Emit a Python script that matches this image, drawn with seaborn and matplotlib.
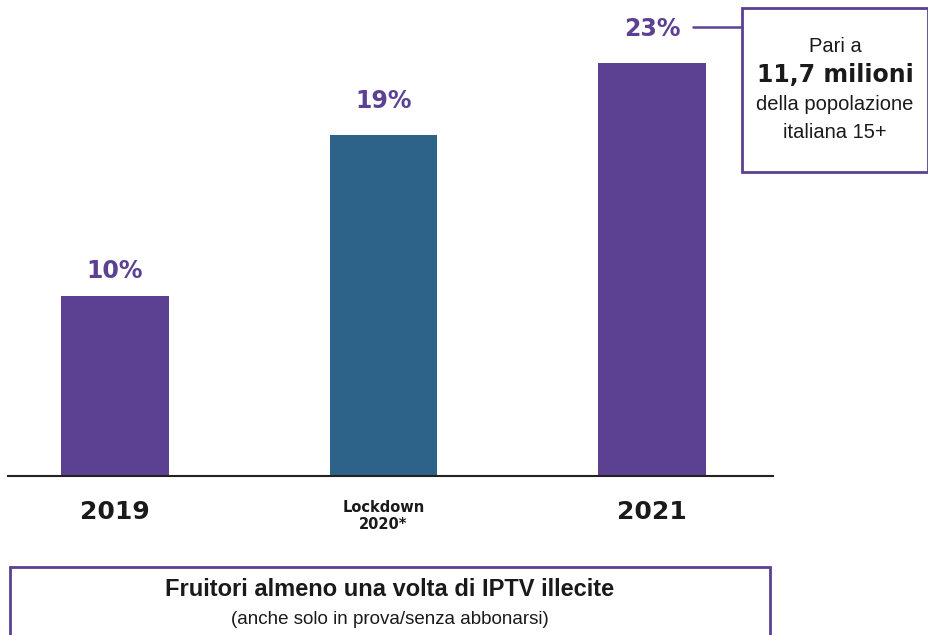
import matplotlib
matplotlib.use("Agg")
import matplotlib.pyplot as plt
import seaborn as sns
import pandas as pd
from matplotlib.patches import Rectangle
from matplotlib.lines import Line2D

categories = ["2019", "Lockdown\n2020*", "2021"]
values = [10, 19, 23]
value_labels = ["10%", "19%", "23%"]
bar_colors = ["#5C4193", "#2D6389", "#5C4193"]
callout_lines = ["Pari a", "11,7 milioni", "della popolazione", "italiana 15+"]
title = "Fruitori almeno una volta di IPTV illecite"
subtitle = "(anche solo in prova/senza abbonarsi)"

sns.set_style("white")
plt.rcParams['font.family'] = ['Liberation Sans', 'DejaVu Sans']

W, H = 929, 635
fig = plt.figure(figsize=(W / 100, H / 100), dpi=100)

def fx(px):
    return px / W

def fy(py):
    return 1 - py / H

base_y = 476
ax = fig.add_axes([fx(8), fy(base_y), fx(773 - 8), (base_y - 0.3) / H])

df = pd.DataFrame({"cat": categories, "val": values})
sns.barplot(data=df, x="cat", y="val", hue="cat", palette=bar_colors,
            width=0.4, legend=False, ax=ax, saturation=1, linewidth=0)

ax.set_xlim(-0.399, 2.451)
ax.set_ylim(0, 26.5)
ax.set_xlabel("")
ax.set_ylabel("")
ax.set_yticks([])
for s in ["top", "right", "left"]:
    ax.spines[s].set_visible(False)
ax.spines["bottom"].set_color("#222222")
ax.spines["bottom"].set_linewidth(1.5)
ax.tick_params(axis="x", length=0, pad=17)
ax.set_xticks(range(len(categories)))
ax.set_xticklabels(categories)
for i, lab in enumerate(ax.get_xticklabels()):
    lab.set_fontweight("bold")
    lab.set_color("#1a1a1a")
    lab.set_family(["DejaVu Sans"])
    if i == 1:
        lab.set_fontsize(10.5)
        lab.set_linespacing(1.2)
    else:
        lab.set_fontsize(18)

label_offsets = [10, 16, 16]
for i, (v, t) in enumerate(zip(values, value_labels)):
    ax.annotate(t, (i, v), xytext=(0, label_offsets[i]), textcoords="offset points",
                ha="center", va="bottom", fontsize=17, fontweight="heavy",
                color="#5C4193", family=["DejaVu Sans"])

# callout box
fig.add_artist(Line2D([fx(693), fx(742)], [fy(27), fy(27)], color="#5C4193", lw=1.8))
fig.add_artist(Rectangle((fx(742), fy(172)), fx(928 - 742), (172 - 8) / H,
                         fill=False, edgecolor="#5C4193", lw=2))
cx = fx(835)
fig.text(cx, fy(46), callout_lines[0], ha="center", va="center", fontsize=14.5, color="#1a1a1a")
fig.text(cx, fy(75), callout_lines[1], ha="center", va="center", fontsize=17,
         fontweight="bold", color="#1a1a1a", family=["DejaVu Sans"])
fig.text(cx, fy(105), callout_lines[2], ha="center", va="center", fontsize=14.5, color="#1a1a1a")
fig.text(cx, fy(133), callout_lines[3], ha="center", va="center", fontsize=14.5, color="#1a1a1a")

# bottom box
fig.add_artist(Rectangle((fx(10), fy(640)), fx(770 - 10), (640 - 567) / H,
                         fill=False, edgecolor="#5C4193", lw=2, clip_on=False))
fig.text(fx(390), fy(590), title, ha="center", va="center", fontsize=17,
         fontweight="bold", color="#1a1a1a")
fig.text(fx(390), fy(619), subtitle, ha="center", va="center", fontsize=13.5,
         color="#1a1a1a")

fig.savefig("out.png", dpi=100)
